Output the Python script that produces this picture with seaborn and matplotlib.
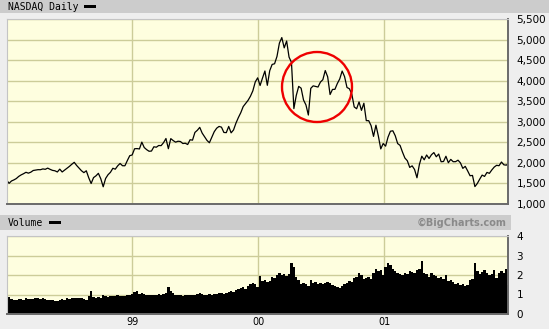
import numpy as np
import pandas as pd
import matplotlib
matplotlib.use("Agg")
import matplotlib.pyplot as plt
import matplotlib.dates as mdates
from matplotlib.patches import Rectangle, Ellipse
import seaborn as sns

# ---------------- data (weekly) ----------------
start_date = "1998-01-02"   # first weekly (Friday) point

price = [
    # 1998
    1581, 1503, 1560, 1586, 1619, 1671, 1708, 1737, 1771, 1750, 1774, 1815, 1826,
    1835, 1834, 1853, 1844, 1873, 1843, 1818, 1808, 1779, 1848, 1779, 1825, 1870,
    1915, 1967, 2014, 1937, 1872, 1809, 1763, 1808, 1639, 1499, 1642, 1685, 1746,
    1614, 1419, 1621, 1712, 1771, 1869, 1847, 1928, 1986, 1931, 1930, 2057, 2175,
    # 1999
    2193, 2344, 2348, 2339, 2505, 2374, 2322, 2283, 2288, 2392, 2381, 2423, 2420,
    2492, 2593, 2345, 2590, 2543, 2504, 2527, 2520, 2471, 2478, 2447, 2563, 2553,
    2741, 2793, 2864, 2725, 2638, 2547, 2490, 2621, 2758, 2843, 2887, 2869, 2740,
    2736, 2887, 2731, 2801, 2967, 3102, 3221, 3370, 3447, 3520, 3621, 3753, 3969, 4069,
    # 2000
    3882, 4064, 4235, 3887, 4244, 4395, 4411, 4590, 4914, 5048, 4798, 4964, 4573,
    4446, 3321, 3643, 3861, 3817, 3529, 3410, 3164, 3813, 3874, 3860, 3845, 3966,
    4023, 4246, 4094, 3663, 3787, 3789, 3930, 4042, 4234, 4099, 3835, 3803, 3673,
    3361, 3317, 3483, 3278, 3451, 3028, 3027, 2905, 2645, 2917, 2653, 2340, 2471,
    # 2001
    2407, 2626, 2770, 2781, 2660, 2470, 2425, 2262, 2118, 2052, 1890, 1928, 1840,
    1638, 1961, 2163, 2075, 2192, 2107, 2198, 2251, 2149, 2215, 2028, 2034, 2161,
    2004, 2085, 2029, 2030, 2066, 2001, 1867, 1916, 1805, 1687, 1695, 1423, 1499,
    1605, 1703, 1671, 1768, 1746, 1828, 1898, 1941, 1931, 2021, 1953, 1945, 1988,
]

volume = [  # billions of shares
    # 1998
    0.75, 0.85, 0.78, 0.72, 0.74, 0.78, 0.76, 0.74, 0.80, 0.76, 0.78, 0.76, 0.80,
    0.82, 0.78, 0.80, 0.76, 0.74, 0.72, 0.70, 0.68, 0.66, 0.74, 0.76, 0.74, 0.80,
    0.78, 0.82, 0.80, 0.84, 0.80, 0.82, 0.78, 0.72, 0.90, 1.20, 0.88, 0.84, 0.86,
    0.82, 0.98, 0.90, 0.86, 0.90, 0.94, 0.92, 0.96, 0.90, 0.92, 0.94, 1.00, 0.96,
    # 1999
    1.05, 1.15, 1.20, 1.05, 1.10, 1.05, 0.98, 0.95, 0.98, 0.98, 1.00, 1.02, 0.95,
    1.05, 1.10, 1.40, 1.20, 1.10, 1.00, 0.98, 1.00, 0.92, 0.95, 0.98, 1.00, 0.96,
    1.00, 1.05, 1.10, 1.02, 0.98, 1.00, 1.05, 0.98, 1.02, 1.05, 1.08, 1.10, 1.05,
    1.10, 1.15, 1.20, 1.15, 1.25, 1.30, 1.35, 1.40, 1.30, 1.45, 1.55, 1.60, 1.55, 1.40,
    # 2000
    1.95, 1.70, 1.75, 1.65, 1.70, 1.90, 1.85, 2.00, 2.10, 2.00, 2.05, 1.95, 2.05,
    2.60, 2.40, 1.90, 1.75, 1.55, 1.60, 1.55, 1.45, 1.75, 1.60, 1.65, 1.55, 1.60,
    1.55, 1.60, 1.65, 1.60, 1.50, 1.45, 1.40, 1.35, 1.45, 1.55, 1.60, 1.70, 1.65,
    1.85, 1.90, 2.10, 2.00, 1.80, 1.85, 1.90, 1.80, 2.10, 2.30, 2.20, 2.25, 2.00,
    # 2001
    2.40, 2.60, 2.50, 2.30, 2.20, 2.10, 2.05, 2.00, 2.10, 2.05, 2.20, 2.15, 2.10,
    2.25, 2.30, 2.70, 2.10, 2.05, 1.90, 2.10, 2.00, 1.95, 1.85, 1.90, 1.80, 2.00,
    1.70, 1.75, 1.65, 1.55, 1.60, 1.50, 1.55, 1.45, 1.50, 1.75, 1.80, 2.60, 2.20,
    2.05, 2.15, 2.25, 2.10, 2.00, 2.05, 2.25, 1.85, 2.10, 2.20, 2.10, 2.30, 1.50,
]

price_ticks = [1000, 1500, 2000, 2500, 3000, 3500, 4000, 4500, 5000, 5500]
price_tick_labels = ["1,000", "1,500", "2,000", "2,500", "3,000", "3,500",
                     "4,000", "4,500", "5,000", "5,500"]
volume_ticks = [0, 1, 2, 3, 4]
volume_tick_labels = ["0", "1", "2", "3", "4"]
year_ticks = ["1999-01-01", "2000-01-01", "2001-01-01"]
year_tick_labels = ["99", "00", "01"]

n = min(len(price), len(volume))
dates = pd.date_range(start_date, periods=n, freq="W-FRI")
xnum = mdates.date2num(dates.to_pydatetime())
df = pd.DataFrame({"x": xnum, "price": price[:n], "volume": volume[:n]})

# ---------------- styling ----------------
sns.set_style("white")
plt.rcParams["font.family"] = ["DejaVu Sans"]

W, H = 549, 329
BG = "#eeeeee"
PANEL = "#fefedf"
GRID = "#cccc99"

fig = plt.figure(figsize=(W / 100, H / 100), dpi=100, facecolor=BG)

def fr(x0, y0, x1, y1):
    """pixel box (top-left origin) -> figure fraction rect"""
    return [x0 / W, 1 - y1 / H, (x1 - x0) / W, (y1 - y0) / H]

# header bands
fig.patches.append(Rectangle((0, 1 - 13 / H), 1, 13 / H, transform=fig.transFigure,
                             facecolor="#cccccc", edgecolor="none", zorder=0))
fig.patches.append(Rectangle((0, 1 - 230 / H), 511 / W, 15 / H, transform=fig.transFigure,
                             facecolor="#cccccc", edgecolor="none", zorder=0))
# little black legend dashes
fig.patches.append(Rectangle((84 / W, 1 - 8 / H), 12 / W, 3 / H, transform=fig.transFigure,
                             facecolor="black", edgecolor="none", zorder=1))
fig.patches.append(Rectangle((49 / W, 1 - 224 / H), 12 / W, 3 / H, transform=fig.transFigure,
                             facecolor="black", edgecolor="none", zorder=1))

fig.text(8 / W, 1 - 7 / H, "NASDAQ Daily", family="DejaVu Sans Mono", fontsize=7.0,
         va="center", ha="left", color="black")
fig.text(8 / W, 1 - 222.5 / H, "Volume", family="DejaVu Sans Mono", fontsize=7.0,
         va="center", ha="left", color="black")
fig.text(507 / W, 1 - 222.5 / H, "\u00a9BigCharts.com", fontsize=7.0, fontweight="bold",
         va="center", ha="right", color="#8a8a8a")

axp = fig.add_axes(fr(7, 19, 508, 204))
axv = fig.add_axes(fr(7, 236, 508, 314))

xlim = (mdates.date2num(pd.Timestamp("1998-01-03")), mdates.date2num(pd.Timestamp("2001-12-26")))
year_pos = [mdates.date2num(pd.Timestamp(d)) for d in year_ticks]

for ax in (axp, axv):
    ax.set_facecolor(PANEL)
    ax.set_xlim(*xlim)
    ax.set_xticks(year_pos)
    ax.yaxis.tick_right()
    ax.tick_params(axis="both", length=0, labelsize=7.5, colors="black")
    ax.tick_params(axis="y", pad=6)
    ax.grid(True, color=GRID, linewidth=1.0)
    ax.set_axisbelow(True)
    ax.spines["top"].set_color("#c4c4c4")
    ax.spines["left"].set_color("#c4c4c4")
    ax.spines["top"].set_linewidth(0.8)
    ax.spines["left"].set_linewidth(0.8)
    ax.spines["bottom"].set_color("#6a6a6a")
    ax.spines["right"].set_color("#6a6a6a")
    ax.spines["bottom"].set_linewidth(1.4)
    ax.spines["right"].set_linewidth(1.4)

# price line
sns.lineplot(data=df, x="x", y="price", ax=axp, color="black", linewidth=0.9)
axp.set_ylim(1000, 5500)
axp.set_yticks(price_ticks)
axp.set_yticklabels(price_tick_labels)
axp.set_xticklabels([])
axp.set_xlabel("")
axp.set_ylabel("")
axp.set_xlim(*xlim)

# red circle annotation
axp.add_patch(Ellipse(((317 - 7) / 501, (204 - 87) / 185), 70 / 501, 70 / 185,
                      transform=axp.transAxes, fill=False, edgecolor="#ee0000",
                      linewidth=1.7, zorder=5))

# volume bars
sns.barplot(data=df, x="x", y="volume", ax=axv, native_scale=True, color="black",
            width=1.0, linewidth=0, errorbar=None, saturation=1)
axv.set_ylim(0, 4)
axv.set_yticks(volume_ticks)
axv.set_yticklabels(volume_tick_labels)
axv.set_xlim(*xlim)
axv.set_xticks(year_pos)
axv.set_xticklabels(year_tick_labels)
axv.tick_params(axis="x", pad=2, labelsize=7.0)
axv.set_xlabel("")
axv.set_ylabel("")

fig.savefig("out.png", dpi=100, facecolor=BG)
